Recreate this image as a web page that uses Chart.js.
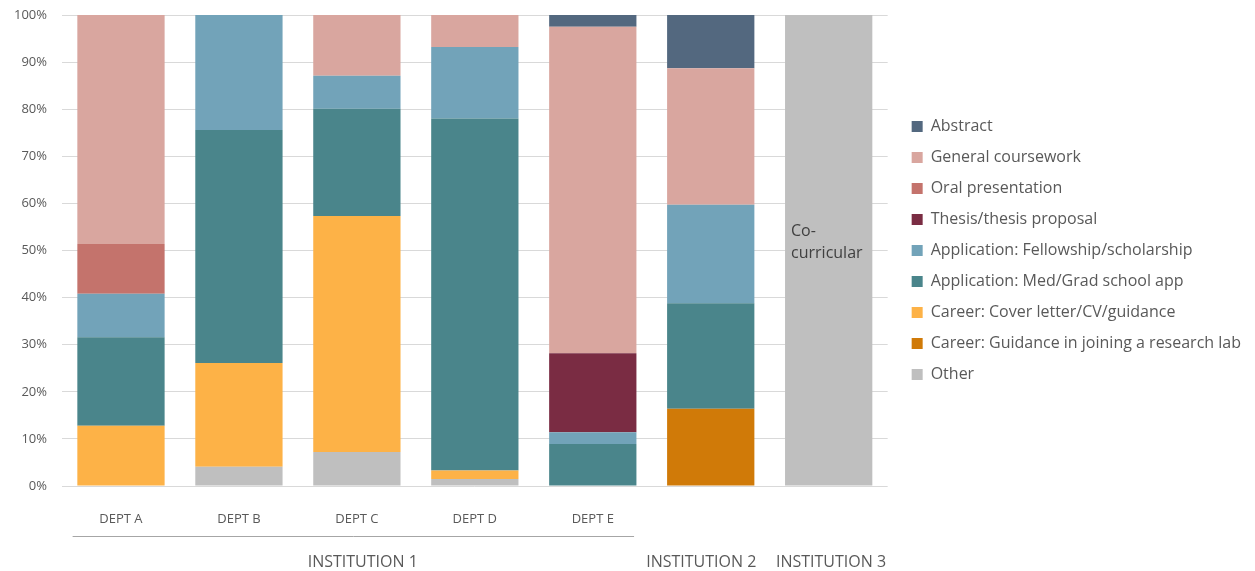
<!DOCTYPE html>
<html>
<head>
<meta charset="utf-8">
<script src="https://cdn.jsdelivr.net/npm/chart.js@4"></script>
<style>
  html, body { margin: 0; padding: 0; background: #fff; }
  #wrap { width: 1255px; height: 571px; }
</style>
</head>
<body>
<div id="wrap"><canvas id="writingChart"></canvas></div>
<script>
// Category labels along the bottom
const deptLabels = ['DEPT A', 'DEPT B', 'DEPT C', 'DEPT D', 'DEPT E', '', ''];
const institutions = ['INSTITUTION 1', 'INSTITUTION 2', 'INSTITUTION 3'];
const institutionIndex = [2, 5, 6];
const yTicks = [0, 10, 20, 30, 40, 50, 60, 70, 80, 90, 100];

// Share of each writing type (%), stacked bottom to top
const other       = [0, 4.1, 7.2, 1.5, 0, 0, 100];
const careerLab   = [0, 0, 0, 0, 0, 16.4, 0];
const careerCv    = [12.8, 22.0, 50.1, 1.8, 0, 0, 0];
const medGrad     = [18.8, 49.5, 22.8, 74.7, 8.9, 22.4, 0];
const fellowship  = [9.2, 24.4, 7.0, 15.2, 2.5, 20.9, 0];
const thesis      = [0, 0, 0, 0, 16.8, 0, 0];
const oral        = [10.6, 0, 0, 0, 0, 0, 0];
const coursework  = [48.6, 0, 12.9, 6.8, 69.3, 29.0, 0];
const abstract    = [0, 0, 0, 0, 2.5, 11.3, 0];

const textColor = '#595959';
const gridColor = '#D9D9D9';
const fontFamily = '"Open Sans", "Noto Sans", sans-serif';

function series(label, data, color) {
  return {
    label: label,
    data: data,
    backgroundColor: color,
    borderWidth: 0,
    barPercentage: 0.74,
    categoryPercentage: 1.0
  };
}

// Extra labels under the axis and inside the co-curricular bar
const groupLabelsPlugin = {
  id: 'groupLabels',
  afterDraw(chart) {
    const ctx = chart.ctx;
    const x = chart.scales.x;
    const step = x.getPixelForValue(1) - x.getPixelForValue(0);
    const nudge = [0.05, -0.08, 0.02];

    ctx.save();
    // bracket line under the five departments
    ctx.strokeStyle = '#A6A6A6';
    ctx.lineWidth = 1;
    ctx.beginPath();
    ctx.moveTo(x.getPixelForValue(0) - step * 0.41, 536.5);
    ctx.lineTo(x.getPixelForValue(4) + step * 0.35, 536.5);
    ctx.stroke();

    ctx.fillStyle = textColor;
    ctx.font = '16px ' + fontFamily;
    ctx.textAlign = 'center';
    ctx.textBaseline = 'middle';
    institutions.forEach((name, i) => {
      ctx.fillText(name, x.getPixelForValue(institutionIndex[i]) + nudge[i] * step, 562);
    });

    // note inside the last bar
    const meta = chart.getDatasetMeta(0);
    const bar = meta.data[6];
    const left = bar.x - bar.width / 2 + 6;
    const mid = (bar.y + bar.base) / 2;
    ctx.fillStyle = '#404040';
    ctx.font = '16px ' + fontFamily;
    ctx.textAlign = 'left';
    ctx.fillText('Co-', left, mid - 19);
    ctx.fillText('curricular', left, mid + 3);
    ctx.restore();
  }
};

const ctx = document.getElementById('writingChart').getContext('2d');

new Chart(ctx, {
  type: 'bar',
  data: {
    labels: deptLabels,
    datasets: [
      series('Other', other, '#BFBFBF'),
      series('Career: Guidance in joining a research lab', careerLab, '#D07A08'),
      series('Career: Cover letter/CV/guidance', careerCv, '#FDB247'),
      series('Application: Med/Grad school app', medGrad, '#4A858B'),
      series('Application: Fellowship/scholarship', fellowship, '#72A3B9'),
      series('Thesis/thesis proposal', thesis, '#7A2C43'),
      series('Oral presentation', oral, '#C4736C'),
      series('General coursework', coursework, '#D9A69F'),
      series('Abstract', abstract, '#53687F')
    ]
  },
  options: {
    responsive: true,
    maintainAspectRatio: false,
    animation: false,
    layout: {
      padding: { top: 15, left: 0, right: 4, bottom: 0 }
    },
    plugins: {
      legend: {
        display: true,
        position: 'right',
        fullSize: false,
        maxWidth: 400,
        reverse: true,
        labels: {
          boxWidth: 11,
          boxHeight: 11,
          padding: 15,
          color: textColor,
          font: { family: fontFamily, size: 16 }
        }
      },
      tooltip: { enabled: false }
    },
    scales: {
      x: {
        stacked: true,
        grid: { display: false },
        border: { display: false },
        ticks: {
          color: textColor,
          padding: 17,
          maxRotation: 0,
          font: { family: fontFamily, size: 13 }
        },
        afterFit(scale) {
          scale.height = 85;
        }
      },
      y: {
        stacked: true,
        min: 0,
        max: 100,
        grid: { color: gridColor, drawTicks: false },
        border: { display: false },
        afterBuildTicks(scale) {
          scale.ticks = yTicks.map(v => ({ value: v }));
        },
        ticks: {
          color: textColor,
          padding: 15,
          font: { family: fontFamily, size: 13 },
          callback: v => v + '%'
        },
        afterFit(scale) {
          scale.width = 62;
          scale.paddingTop = 0;
          scale.paddingBottom = 0;
        }
      },
      // empty strip between the plot and the legend
      gap: {
        position: 'right',
        grid: { display: false },
        border: { display: false },
        ticks: { display: false },
        afterFit(scale) {
          scale.width = 9;
        }
      }
    }
  },
  plugins: [groupLabelsPlugin]
});
</script>
</body>
</html>
